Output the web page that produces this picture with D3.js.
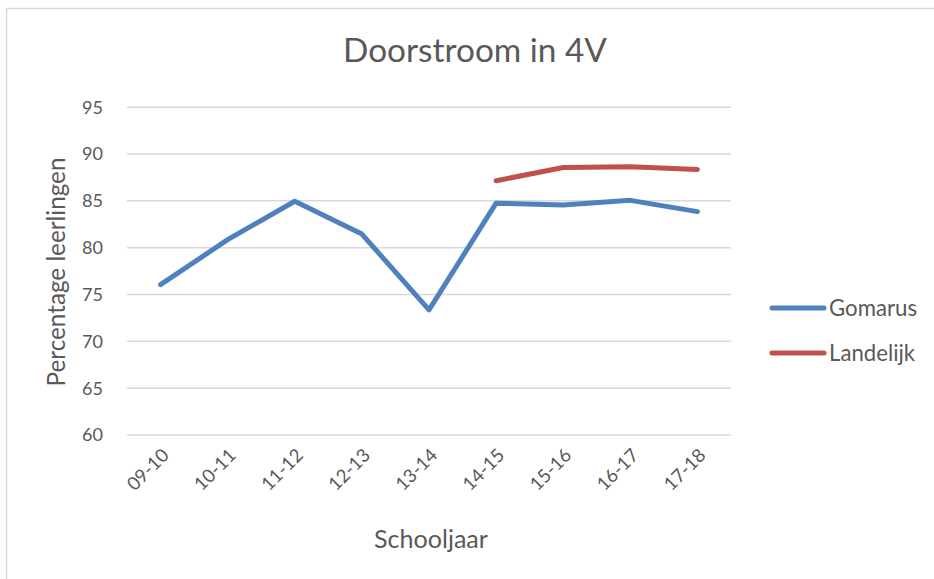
<!DOCTYPE html>
<html><head><meta charset="utf-8">
<script src="https://cdn.jsdelivr.net/npm/d3@7"></script>
<style>body{margin:0;background:#fff}svg{display:block}text{font-family:Lato,"Open Sans",sans-serif;fill:#595959}</style>
</head><body>
<script>
const categories = ["09-10","10-11","11-12","12-13","13-14","14-15","15-16","16-17","17-18"];
const gomarus = [76.0, 80.8, 84.9, 81.4, 73.3, 84.7, 84.5, 85.0, 83.8];
const landelijk = [null, null, null, null, null, 87.1, 88.5, 88.6, 88.3];
const yTicks = [60, 65, 70, 75, 80, 85, 90, 95];
const seriesNames = ["Gomarus", "Landelijk"];
const colors = ["#4F81BD", "#C0504D"];

const W = 934, H = 579;
const svg = d3.select("body").append("svg").attr("width", W).attr("height", H);
svg.append("rect").attr("x", 6.5).attr("y", 8.5).attr("width", W + 10).attr("height", H + 10)
  .attr("fill", "#fff").attr("stroke", "#d9d9d9").attr("stroke-width", 1.5);

// scale a text's font so that its width matches the reference width
function fit(sel, base, target) {
  sel.style("font-size", base + "px");
  const w = sel.node().getComputedTextLength();
  sel.style("font-size", (base * target / w).toFixed(2) + "px");
}

const plot = {left: 127, right: 731, top: 106.7, bottom: 434.5};
const x = d3.scalePoint().domain(categories).range([plot.left, plot.right]).padding(0.5);
const y = d3.scaleLinear().domain([60, 95]).range([plot.bottom, plot.top]);

const yAxis = d3.axisLeft(y).tickValues(yTicks).tickSize(-(plot.right - plot.left)).tickPadding(24);
const gy = svg.append("g").attr("transform", `translate(${plot.left},0)`).call(yAxis);
gy.select(".domain").remove();
gy.selectAll(".tick line").attr("stroke", "#d9d9d9").attr("stroke-width", 1.5);
gy.selectAll(".tick text").attr("fill", "#595959").attr("dy", "0.35em").attr("font-family", null);
fit(gy.select(".tick text"), 18, 21);
gy.selectAll(".tick text").style("font-size", gy.select(".tick text").style("font-size"));

const xAxis = d3.axisBottom(x).tickSize(0).tickPadding(0);
const gx = svg.append("g").attr("transform", `translate(0,${plot.bottom})`).call(xAxis);
gx.select(".domain").remove();
gx.selectAll(".tick text").attr("fill", "#595959").attr("font-family", null)
  .attr("text-anchor", "end").attr("dy", 0).attr("y", 0)
  .attr("transform", "translate(9,22) rotate(-45)");
fit(gx.select(".tick text"), 18, 50);
gx.selectAll(".tick text").style("font-size", gx.select(".tick text").style("font-size"));

const line = d3.line().defined(d => d.v != null).x(d => x(d.c)).y(d => y(d.v));
[gomarus, landelijk].forEach((s, i) => {
  svg.append("path").datum(categories.map((c, j) => ({c, v: s[j]})))
    .attr("d", line).attr("fill", "none").attr("stroke", colors[i])
    .attr("stroke-width", 5).attr("stroke-linecap", "round").attr("stroke-linejoin", "round");
});

const title = svg.append("text").attr("x", 475).attr("y", 62).attr("text-anchor", "middle").text("Doorstroom in 4V");
fit(title, 31, 264);
const yt = svg.append("text").attr("transform", "translate(65,272) rotate(-90)").attr("text-anchor", "middle").text("Percentage leerlingen");
fit(yt, 20, 229);
const xt = svg.append("text").attr("x", 431).attr("y", 548).attr("text-anchor", "middle").text("Schooljaar");
fit(xt, 20, 114);

seriesNames.forEach((n, i) => {
  const ly = 308 + i * 45;
  svg.append("line").attr("x1", 772).attr("x2", 824).attr("y1", ly).attr("y2", ly)
    .attr("stroke", colors[i]).attr("stroke-width", 5).attr("stroke-linecap", "round");
  const t = svg.append("text").attr("x", 829).attr("y", ly).attr("dy", "0.35em").text(n);
  if (i === 0) fit(t, 20, 88);
  else t.style("font-size", svg.select("text[data-x]").empty() ? null : null);
});
// same legend font size for both entries
const lf = svg.selectAll("text").filter(function(){return d3.select(this).text()==="Gomarus";}).style("font-size");
svg.selectAll("text").filter(function(){return d3.select(this).text()==="Landelijk";}).style("font-size", lf);
</script>
</body></html>
